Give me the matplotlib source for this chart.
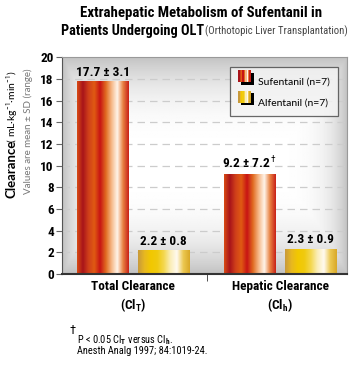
import numpy as np
import matplotlib
matplotlib.use("Agg")
import matplotlib.pyplot as plt
from matplotlib.colors import to_rgb
from matplotlib.patches import Rectangle
from matplotlib.legend_handler import HandlerBase

# data
groups = ["Total Clearance\n(Cl$_\\mathbf{T}$)", "Hepatic Clearance\n(Cl$_\\mathbf{h}$)"]
series = ["Sufentanil (n=7)", "Alfentanil (n=7)"]
sufentanil = [17.7, 9.2]
alfentanil = [2.2, 2.3]
suf_labels = ["17.7 ± 3.1", "9.2 ± 7.2$^\\dagger$"]
alf_labels = ["2.2 ± 0.8", "2.3 ± 0.9"]
yticks = [0, 2, 4, 6, 8, 10, 12, 14, 16, 18, 20]

cond = ["Roboto Condensed", "DejaVu Sans"]
plain = ["Lato", "DejaVu Sans"]
plt.rcParams["mathtext.fontset"] = "custom"
plt.rcParams["mathtext.rm"] = "Roboto Condensed"
plt.rcParams["mathtext.bf"] = "Roboto Condensed:bold"

suf_stops = ["#d84a14", "#a8141a", "#d0401a", "#e05a12", "#c81414", "#e06a20",
             "#f6b888", "#fff4ea", "#e88040", "#c82018"]
alf_stops = ["#c89a3a", "#e8b820", "#f2c800", "#f0ca10", "#f4d850",
             "#fbeeb8", "#fffaf0", "#ecc850", "#d8a828"]


def strip(stops, n=200):
    cols = np.array([to_rgb(c) for c in stops])
    xs = np.linspace(0, 1, len(stops))
    t = np.linspace(0, 1, n)
    img = np.stack([np.interp(t, xs, cols[:, k]) for k in range(3)], axis=-1)
    return img[np.newaxis, :, :]


class GradHandler(HandlerBase):
    def __init__(self, stops):
        super().__init__()
        self.stops = stops

    def create_artists(self, legend, orig, xd, yd, width, height, fontsize, trans):
        arts = []
        w = width
        x0 = xd
        arts.append(Rectangle((x0 + 2, yd - 2), w, height, fc="black", ec="none", transform=trans))
        n = len(self.stops)
        for i, c in enumerate(self.stops):
            arts.append(Rectangle((x0 + i * w / n, yd), w / n + 0.3, height, fc=c, ec="none", transform=trans))
        return arts


fig = plt.figure(figsize=(3.51, 3.66), dpi=100)
ax = fig.add_axes([0.177, 0.251, 0.812, 0.593])

# grey vignette background
gx = np.linspace(-1, 1, 200)
gy = np.linspace(-1, 1, 200)
X, Y = np.meshgrid(gx, gy)
v = 1 - 0.24 * np.clip(np.maximum(np.abs(X) ** 8, np.abs(Y) ** 3), 0, 1)
ax.imshow(v, cmap="gray", vmin=0, vmax=1, extent=[0, 1, 0, 1], transform=ax.transAxes,
          aspect="auto", zorder=0, interpolation="bilinear")

for yv in yticks[1:-1]:
    ax.axhline(yv, color="#cccccc", lw=0.9, ls=(0, (6, 4)), zorder=1)

x = np.arange(len(groups))
w = 0.347
off = 0.207
for vals, stops, labs, sgn in [(sufentanil, suf_stops, suf_labels, -1),
                               (alfentanil, alf_stops, alf_labels, 1)]:
    bars = ax.bar(x + sgn * off, vals, w, color="none", zorder=2)
    for b, lab in zip(bars, labs):
        x0, h = b.get_x(), b.get_height()
        ax.imshow(strip(stops), extent=[x0, x0 + w, 0, h], aspect="auto", zorder=2,
                  interpolation="bilinear")
        ax.text(x0 + w / 2, h + 0.25, lab, ha="center", va="bottom", fontsize=9.5,
                fontweight="bold", family=cond, zorder=3)

ax.set_xlim(-0.483, 1.456)
ax.set_ylim(0, 20)
ax.set_yticks(yticks)
ax.set_yticklabels([str(t) for t in yticks], fontsize=9.5, fontweight="bold", family=cond)
ax.set_xticks(x)
ax.set_xticklabels(groups, fontsize=9.5, fontweight="bold", family=cond, linespacing=1.25)
ax.tick_params(axis="x", length=0, pad=4)
ax.set_xticks([0.5], minor=True)
ax.tick_params(axis="x", which="minor", length=5, direction="out", color="#333333")
ax.tick_params(axis="y", length=4, direction="out", color="#666666", pad=2)

for s in ["top", "right"]:
    ax.spines[s].set_color("#999999")
    ax.spines[s].set_linewidth(0.8)
ax.spines["left"].set_color("#555555")
ax.spines["bottom"].set_color("#333333")
ax.spines["bottom"].set_linewidth(1.5)

handles = [Rectangle((0, 0), 1, 1), Rectangle((0, 0), 1, 1)]
leg = ax.legend(handles, series, loc="upper right", bbox_to_anchor=(0.967, 0.954),
                borderaxespad=0,
                handler_map={handles[0]: GradHandler(suf_stops[1:]), handles[1]: GradHandler(alf_stops)},
                prop={"family": plain, "size": 7.5}, frameon=True, fancybox=False,
                edgecolor="#444444", handlelength=1.2, handleheight=1.4, handletextpad=0.7,
                borderpad=0.75, labelspacing=0.85)
leg.get_frame().set_linewidth(0.9)
leg.get_frame().set_facecolor("#f4f4f4")
leg.set_zorder(5)

# y label
fig.text(0.034, 1 - 198 / 366, "Clearance", rotation=90, rotation_mode="anchor",
         ha="left", va="center", fontsize=9.5, fontweight="bold", family=plain)
fig.text(0.034, 1 - 145 / 366, " ( mL·kg$^{-1}$·min$^{-1}$)", rotation=90, rotation_mode="anchor",
         ha="left", va="center", fontsize=7.5, family=plain)
fig.text(0.08, 1 - 131 / 366, "Values are mean ± SD (range)", rotation=90, rotation_mode="anchor",
         ha="center", va="center", fontsize=7, color="#777777", family=plain)

# title
fig.text(201 / 351, 1 - 13 / 366, "Extrahepatic Metabolism of Sufentanil in", ha="center", va="center",
         fontsize=10.7, fontweight="bold", family=cond)
fig.text(61 / 351, 1 - 31 / 366, "Patients Undergoing OLT", ha="left", va="center",
         fontsize=10.3, fontweight="bold", family=cond)
fig.text(348 / 351, 1 - 31 / 366, "(Orthotopic Liver Transplantation)", ha="right", va="center",
         fontsize=7.7, family=cond, color="#444444")

# footnote
fig.text(69 / 351, 1 - 331 / 366, "$\\dagger$", fontsize=9, ha="left", va="center")
fig.text(77 / 351, 1 - 340 / 366, "P < 0.05 Cl$_\\mathbf{T}$ versus Cl$_\\mathbf{h}$.", fontsize=7.5,
         ha="left", va="center", family=cond)
fig.text(77 / 351, 1 - 351 / 366, "Anesth Analg 1997; 84:1019-24.", fontsize=7.5,
         ha="left", va="center", family=cond)

fig.savefig("out.png", dpi=100)
